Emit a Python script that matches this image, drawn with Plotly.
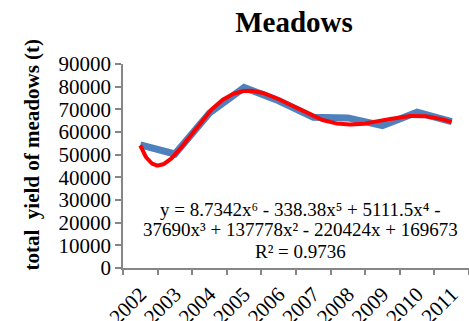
import numpy as np
from plotly import graph_objects as go

years = ['2002', '2003', '2004', '2005', '2006', '2007', '2008', '2009', '2010', '2011']
yield_t = [54300, 50300, 68400, 79600, 73800, 66500, 66200, 62800, 68700, 64600]

# 6th order polynomial trendline, coefficients as printed on the chart (highest power first)
trend_coefs = [8.7342, -338.38, 5111.5, -37690, 137778, -220424, 169673]
eq_lines = ['y = 8.7342x⁶ - 338.38x⁵ + 5111.5x⁴ -',
            '37690x³ + 137778x² - 220424x + 169673',
            'R² = 0.9736']

x_idx = list(range(1, len(years) + 1))
x_fine = np.linspace(1, len(years), 300)
y_fine = np.polyval(trend_coefs, x_fine)

serif = 'Liberation Serif'
axis_grey = '#868686'

fig = go.Figure()
fig.add_trace(go.Scatter(x=x_idx, y=yield_t, mode='lines',
                         line=dict(color='#4F81BD', width=7), name='yield'))
fig.add_trace(go.Scatter(x=x_fine, y=y_fine, mode='lines',
                         line=dict(color='#FF0000', width=4), name='trend'))

fig.update_layout(
    width=469, height=321,
    margin=dict(l=123, r=0, t=64, b=53),
    paper_bgcolor='white', plot_bgcolor='white',
    showlegend=False,
    font=dict(family=serif, color='black', size=21),
    title=dict(text='<b>Meadows</b>', font=dict(family=serif, size=29, color='black'),
               xref='container', x=294 / 469, xanchor='center',
               yref='container', y=1 - 22 / 321, yanchor='middle'),
)
fig.update_xaxes(
    range=[0.5, len(years) + 0.5], automargin=False,
    tickmode='array', tickvals=x_idx, ticktext=years, tickangle=-45,
    ticks='', showgrid=False, zeroline=False, ticklabelstandoff=4,
    showline=True, linecolor=axis_grey, linewidth=1.5,
    tickfont=dict(family=serif, size=21, color='black'),
    minor=dict(tickmode='array', tickvals=[i + 0.5 for i in range(len(years) + 1)],
               ticks='outside', ticklen=5, tickcolor=axis_grey, tickwidth=1.5, showgrid=False),
)
fig.update_yaxes(
    range=[0, 90000], dtick=10000, tickformat='d', automargin=False,
    ticks='outside', ticklen=6, tickcolor=axis_grey, tickwidth=1.5,
    showgrid=False, zeroline=False,
    showline=True, linecolor=axis_grey, linewidth=1.5,
    tickfont=dict(family=serif, size=21, color='black'),
)

fig.add_annotation(text='<b>total  yield of meadows (t)</b>', textangle=-90,
                   xref='paper', yref='paper', x=(17.5 - 123) / 346, y=(268 - 155) / 204,
                   showarrow=False, font=dict(family=serif, size=21, color='black'))

for line, yv in zip(eq_lines, [25600, 16800, 7500]):
    fig.add_annotation(text=line, xref='x', yref='y', x=5.62, y=yv, showarrow=False,
                       font=dict(family=serif, size=19, color='black'))

# drop the browser's default body margin so the figure sits at the page corner
fig.write_html('out.html', config={'displayModeBar': False},
               post_script="document.body.style.margin='0';")
